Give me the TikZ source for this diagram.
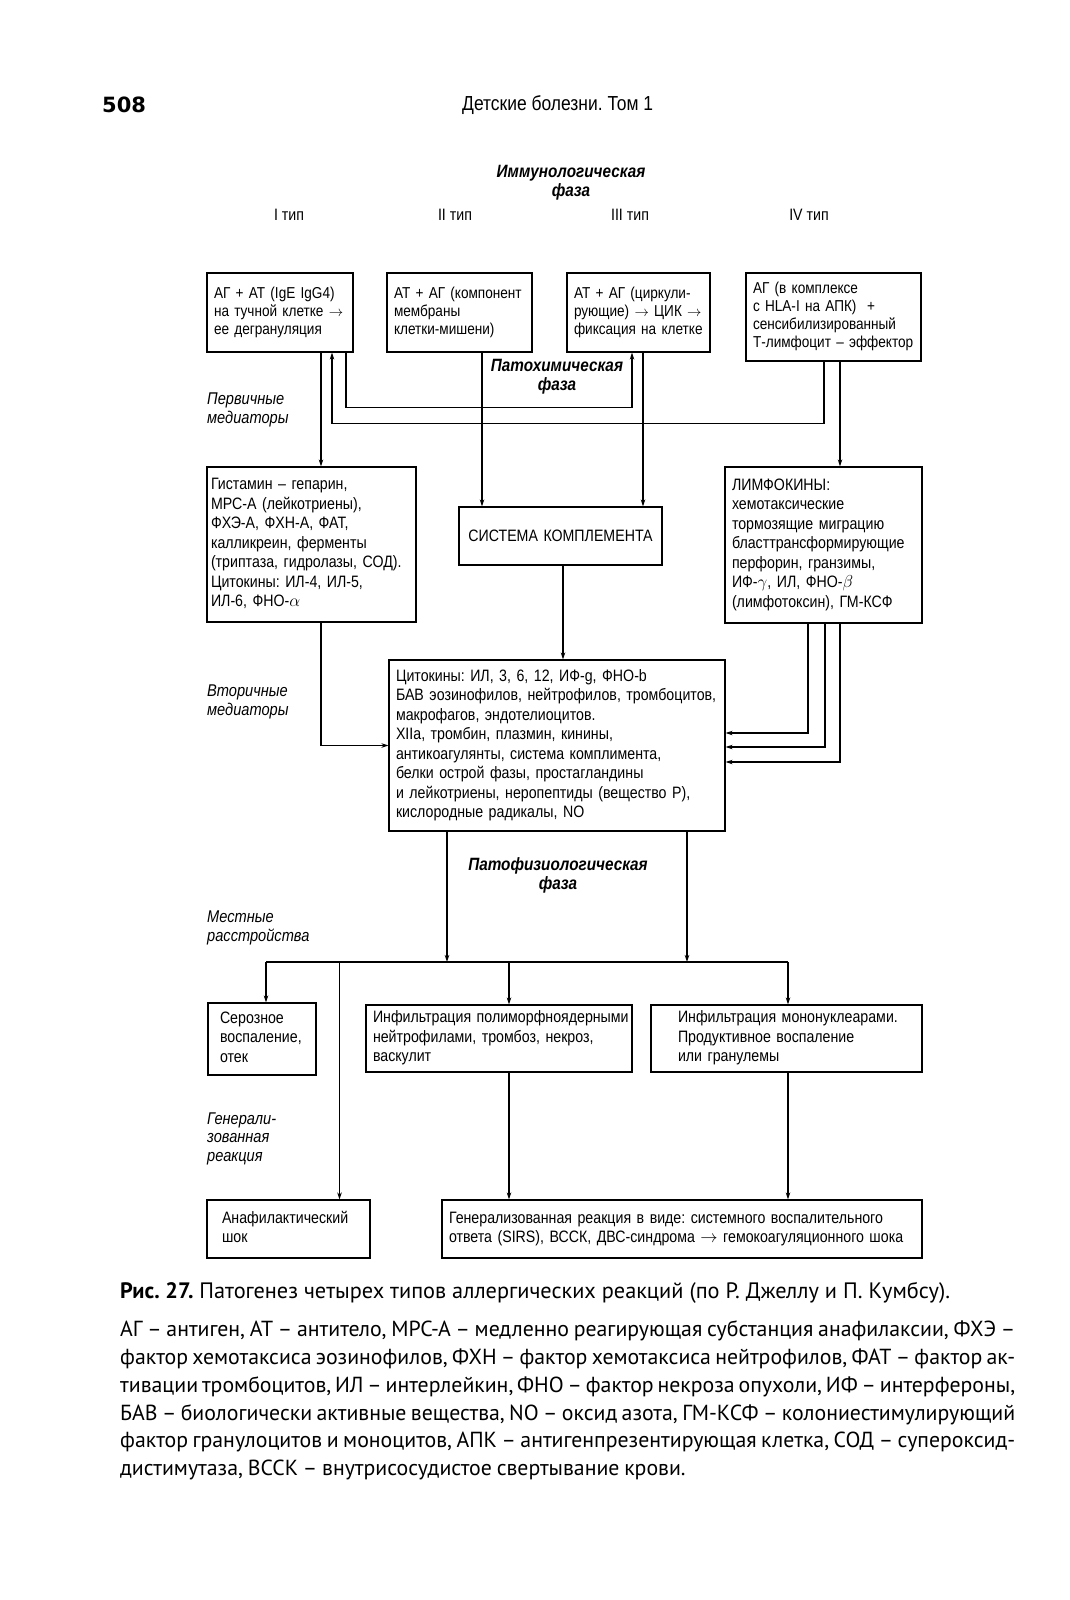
\documentclass[tikz,border=0pt]{standalone}
\usepackage{fontspec}
\setmainfont{Liberation Sans}[FakeStretch=0.86]
\newfontfamily\capfont{PT Sans}
\newfontfamily\numfont{DejaVu Sans}
\usetikzlibrary{arrows.meta}
\newcommand{\boxlines}[1]{\begin{tabular}{@{}l@{}}#1\end{tabular}}
\newcommand{\capspacing}{\spaceskip=0.22em plus 0.3em minus 0.06em\relax}
\frenchspacing

\begin{document}
\begin{tikzpicture}[
  x=1pt, y=-1pt,
  font=\fontsize{16.5}{19.5}\selectfont,
  box/.style={draw, line width=1.2pt, rectangle, inner xsep=7pt, inner ysep=0pt, align=left},
  typebox/.style={box, font=\fontsize{15.8}{18}\selectfont},
  side/.style={anchor=west, inner sep=0pt, align=left, font=\fontsize{17}{18.5}\selectfont\itshape},
  phase/.style={align=center, inner sep=0pt, font=\fontsize{17.8}{19}\selectfont\bfseries\itshape},
  capt/.style={anchor=west, inner sep=0pt, align=left, font=\capfont\fontsize{21.8}{27.8}\selectfont\capspacing},
  arr/.style={-{Stealth[length=7pt,width=4.5pt]}, line width=1.1pt},
  link/.style={line width=1.1pt}
]
\useasboundingbox[fill=white] (0,0) rectangle (1070,1600);

\node[anchor=west, inner sep=0pt, font={\numfont\fontsize{21}{21}\selectfont\bfseries}] (pagenum) at (102,105) {508};
\node[anchor=west, inner sep=0pt, font=\fontsize{20.3}{21}\selectfont] (runhead) at (462,105) {Детские болезни. Том 1};

\node[phase] (immphase) at (571,182.5) {Иммунологическая\\фаза};
\node (t1) at (289,215) {I тип};
\node (t2) at (455,215) {II тип};
\node (t3) at (630,215) {III тип};
\node (t4) at (809,215) {IV тип};

\node[typebox, text width=132pt, minimum height=79pt] (type1) at (280,312.5) {\boxlines{АГ + АТ (IgE IgG4)\\на тучной клетке $\to$\\ее дегрануляция}};
\node[typebox, text width=131pt, minimum height=79pt] (type2) at (459.5,312.5) {\boxlines{АТ + АГ (компонент\\мембраны\\клетки-мишени)}};
\node[typebox, text width=129pt, minimum height=79pt] (type3) at (638.5,312.5) {\boxlines{АТ + АГ (циркули-\\рующие) $\to$ ЦИК $\to$\\фиксация на клетке}};
\node[typebox, text width=161pt, minimum height=88pt] (type4) at (833.5,317) {\boxlines{АГ (в комплексе\\с HLA-I на АПК)\ \ +\\сенсибилизированный\\Т-лимфоцит – эффектор}};

\node[phase] (chemphase) at (557,377) {Патохимическая\\фаза};
\node[side] (primlab) at (207,410) {Первичные\\медиаторы};

\node[box, inner xsep=4pt, text width=201pt, minimum height=155pt] (primary) at (311.5,544.5) {\boxlines{Гистамин – гепарин,\\МРС-А (лейкотриены),\\ФХЭ-А, ФХН-А, ФАТ,\\калликреин, ферменты\\(триптаза, гидролазы, СОД).\\Цитокины: ИЛ-4, ИЛ-5,\\ИЛ-6, ФНО-$\alpha$}};
\node[box, align=center, text width=189pt, minimum height=58pt] (complement) at (560.5,536) {СИСТЕМА КОМПЛЕМЕНТА};
\node[box, text width=183pt, minimum height=156pt] (lymphokines) at (823.5,545) {\boxlines{ЛИМФОКИНЫ:\\хемотаксические\\тормозящие миграцию\\бласттрансформирующие\\перфорин, гранзимы,\\ИФ-$\gamma$, ИЛ, ФНО-$\beta$\\(лимфотоксин), ГМ-КСФ}};

\node[side] (seclab) at (207,702) {Вторичные\\медиаторы};
\node[box, text width=322pt, minimum height=171pt] (secondary) at (557,745.5) {\boxlines{Цитокины: ИЛ, 3, 6, 12, ИФ-g, ФНО-b\\БАВ эозинофилов, нейтрофилов, тромбоцитов,\\макрофагов, эндотелиоцитов.\\XIIa, тромбин, плазмин, кинины,\\антикоагулянты, система комплимента,\\белки острой фазы, простагландины\\и лейкотриены, неропептиды (вещество Р),\\кислородные радикалы, NO}};

\node[phase] (physphase) at (558,875) {Патофизиологическая\\фаза};
\node[side] (locallab) at (207,928) {Местные\\расстройства};

\node[box, inner xsep=12pt, text width=84pt, minimum height=72pt] (serous) at (262,1039) {\boxlines{Серозное\\воспаление,\\отек}};
\node[box, text width=252pt, minimum height=67pt] (polymorph) at (499,1038.5) {\boxlines{Инфильтрация полиморфноядерными\\нейтрофилами, тромбоз, некроз,\\васкулит}};
\node[box, text width=257pt, minimum height=67pt] (mononuc) at (786.5,1038.5) {\hspace*{20pt}\boxlines{Инфильтрация мононуклеарами.\\Продуктивное воспаление\\или гранулемы}};

\node[side] (genlab) at (207,1138.5) {Генерали-\\зованная\\реакция};
\node[box, inner xsep=15pt, text width=133pt, minimum height=58pt] (anaphyl) at (288.5,1229) {\boxlines{Анафилактический\\шок}};
\node[box, text width=466pt, minimum height=58pt] (general) at (682,1229) {\boxlines{Генерализованная реакция в виде: системного воспалительного\\ответа (SIRS), ВССК, ДВС-синдрома $\to$ гемокоагуляционного шока}};

\draw[arr] ([xshift=41pt]type1.south) coordinate (p1) -- (p1 |- primary.north);
\draw[arr] ([xshift=-9.5pt]type4.south) -- ++(0,62) -| ([xshift=52pt]type1.south);
\draw[arr] ([xshift=66pt]type1.south) -- ++(0,55) -| ([xshift=-6.5pt]type3.south);
\draw[arr] ([xshift=22.5pt]type2.south) coordinate (p2) -- (p2 |- complement.north);
\draw[arr] ([xshift=4.5pt]type3.south) coordinate (p3) -- (p3 |- complement.north);
\draw[arr] ([xshift=6.5pt]type4.south) coordinate (p4) -- (p4 |- lymphokines.north);

\draw[arr] ([xshift=2.5pt]complement.south) coordinate (p5) -- (p5 |- secondary.north);
\draw[arr] ([xshift=9.5pt]primary.south) |- (secondary.west);
\draw[arr] ([xshift=-15.5pt]lymphokines.south) |- ([yshift=12.5pt]secondary.east);
\draw[arr] ([xshift=1.5pt]lymphokines.south) |- ([yshift=-1.5pt]secondary.east);
\draw[arr] ([xshift=16.5pt]lymphokines.south) |- ([yshift=-16.5pt]secondary.east);

\coordinate (busl) at (266,962);
\coordinate (busr) at (788,962);
\draw[link] (busl) -- (busr);
\draw[arr] ([xshift=-110pt]secondary.south) coordinate (p6) -- (p6 |- busl);
\draw[arr] ([xshift=130pt]secondary.south) coordinate (p7) -- (p7 |- busl);
\draw[arr] (busl) -- (busl |- serous.north);
\path ([xshift=10pt]polymorph.north) coordinate (p8);
\draw[arr] (p8 |- busl) -- (p8);
\draw[arr] (busr) -- (busr |- mononuc.north);
\path ([xshift=51pt]anaphyl.north) coordinate (p9);
\draw[arr] (p9 |- busl) -- (p9);
\draw[arr] ([xshift=10pt]polymorph.south) coordinate (p10) -- (p10 |- general.north);
\draw[arr] ([xshift=1.5pt]mononuc.south) coordinate (p11) -- (p11 |- general.north);

\node[anchor=west, inner sep=0pt, font=\capfont\fontsize{22.3}{27.8}\selectfont] (figcap) at (120,1293) {\textbf{Рис. 27.} Патогенез четырех типов аллергических реакций (по Р. Джеллу и П. Кумбсу).};
\node[capt] (figkey) at (120,1400.5) {\makebox[895pt][s]{АГ – антиген, АТ – антитело, МРС-А – медленно реагирующая субстанция анафилаксии, ФХЭ –}\\\makebox[895pt][s]{фактор хемотаксиса эозинофилов, ФХН – фактор хемотаксиса нейтрофилов, ФАТ – фактор ак-}\\\makebox[895pt][s]{тивации тромбоцитов, ИЛ – интерлейкин, ФНО – фактор некроза опухоли, ИФ – интерфероны,}\\\makebox[895pt][s]{БАВ – биологически активные вещества, NO – оксид азота, ГМ-КСФ – колониестимулирующий}\\\makebox[895pt][s]{фактор гранулоцитов и моноцитов, АПК – антигенпрезентирующая клетка, СОД – супероксид-}\\\mbox{дистимутаза, ВССК – внутрисосудистое свертывание крови.}};
\end{tikzpicture}
\end{document}
